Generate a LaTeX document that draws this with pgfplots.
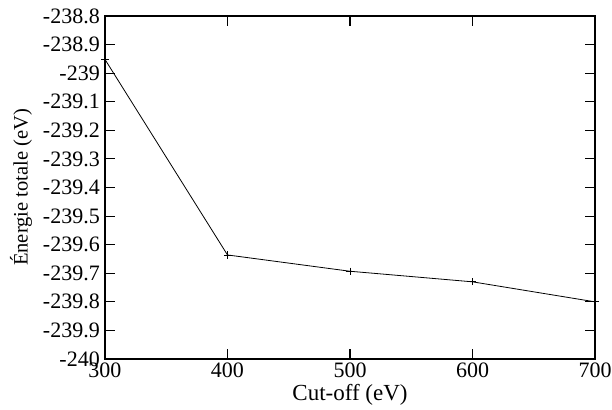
\documentclass[border=0pt]{standalone}
\usepackage{fontspec}
\setmainfont{Liberation Serif}
\usepackage{pgfplots}
\pgfplotsset{compat=1.18}
\begin{document}
\begin{tikzpicture}
\begin{axis}[
  at={(0,0)}, anchor=south west,
  scale only axis,
  width=490bp, height=343bp,
  xmin=300, xmax=700, ymin=-240, ymax=-238.8,
  xtick={300,400,500,600,700},
  xticklabels={300,400,500,600,700},
  ytick={-240,-239.9,-239.8,-239.7,-239.6,-239.5,-239.4,-239.3,-239.2,-239.1,-239,-238.9,-238.8},
  yticklabels={-240,-239.9,-239.8,-239.7,-239.6,-239.5,-239.4,-239.3,-239.2,-239.1,-239,-238.9,-238.8},
  tick align=inside,
  major tick length=10bp,
  minor tick num=0,
  axis line style={line width=1.3bp},
  every tick/.style={black, line width=1.1bp},
  tick label style={font=\fontsize{22bp}{22bp}\selectfont},
  xticklabel style={inner sep=0bp, anchor=north, yshift=-4bp},
  yticklabel style={inner sep=0bp, anchor=east, xshift=-5bp},
  xlabel={Cut-off (eV)},
  ylabel={Énergie totale (eV)},
  xlabel style={font=\fontsize{23bp}{23bp}\selectfont, at={(axis description cs:0.5,0)}, anchor=base, yshift=-41bp},
  ylabel style={font=\fontsize{20.5bp}{20.5bp}\selectfont, at={([xshift=-84bp]axis description cs:0,0.5)}, anchor=center, rotate=0},
  clip=false,
]
\addplot[black, line width=0.8bp, mark=+, mark size=3.6bp, mark options={line width=0.9bp}] coordinates {
  (300,-238.952)
  (400,-239.636)
  (500,-239.693)
  (600,-239.730)
  (700,-239.800)
};
\end{axis}
\pgfresetboundingbox
\path (-105bp,-51bp) rectangle (507bp,359bp);
\end{tikzpicture}
\end{document}
